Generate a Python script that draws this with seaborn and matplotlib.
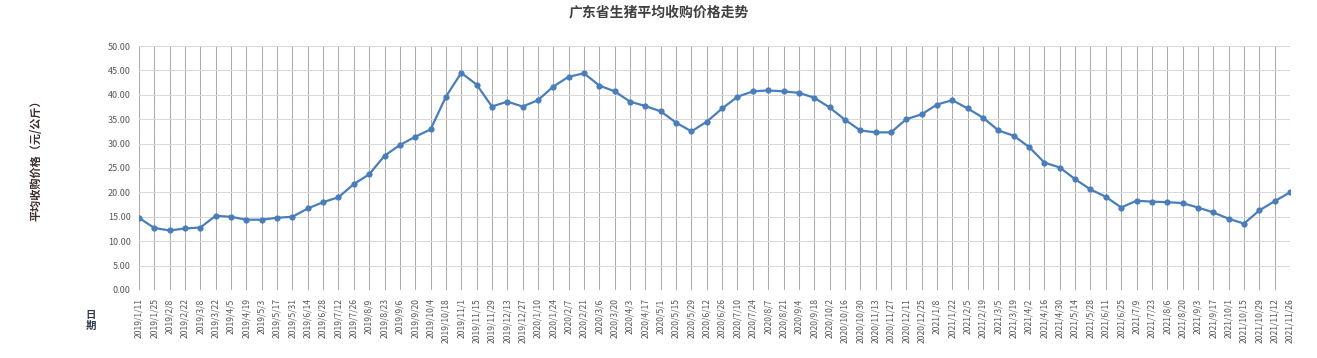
import pandas as pd
import numpy as np
import seaborn as sns
from matplotlib import pyplot as plt

# weekly (every two weeks) sample dates, 2019/1/11 .. 2021/11/26
dates = pd.date_range('2019-01-11', '2021-11-26', freq='14D')
date_labels = [f"{d.year}/{d.month}/{d.day}" for d in dates]

price = [14.8, 12.7, 12.2, 12.6, 12.8, 15.2, 15.0, 14.4, 14.4, 14.8,
         15.0, 16.7, 18.0, 19.0, 21.7, 23.7, 27.5, 29.7, 31.4, 32.9,
         39.6, 44.5, 42.1, 37.6, 38.6, 37.6, 38.9, 41.7, 43.7, 44.4,
         41.9, 40.7, 38.6, 37.7, 36.6, 34.3, 32.5, 34.5, 37.2, 39.6,
         40.7, 40.9, 40.7, 40.4, 39.4, 37.4, 34.9, 32.7, 32.3, 32.3,
         35.0, 36.0, 38.0, 38.9, 37.2, 35.3, 32.7, 31.6, 29.3, 26.1,
         25.1, 22.7, 20.6, 19.1, 16.9, 18.3, 18.1, 18.0, 17.8, 16.9,
         15.9, 14.6, 13.6, 16.3, 18.2, 20.0]

yticks = np.arange(0, 50.01, 5)

df = pd.DataFrame({'idx': range(len(price)), 'price': price})

sns.set_style('white')
plt.rcParams['font.family'] = ['Noto Sans CJK SC', 'DejaVu Sans']

fig = plt.figure(figsize=(13.17, 3.58), dpi=100)
ax = fig.add_axes([0.1055, 0.19, 0.874, 0.6815])

sns.lineplot(data=df, x='idx', y='price', ax=ax, color='#4a7ebb', linewidth=1.6,
             marker='o', markersize=4.5, markeredgewidth=0, zorder=3)

ax.set_xlim(0, len(price) - 1)
ax.set_ylim(0, 50)
ax.set_xticks(range(len(price)))
ax.set_xticklabels(date_labels, rotation=90, fontsize=6.2, color='#595959')
ax.set_yticks(yticks)
ax.set_yticklabels([f"{v:.2f}" for v in yticks], fontsize=6.5, color='#595959')
ax.tick_params(axis='x', length=4, width=0.75, color='#ababab', pad=2)
ax.tick_params(axis='y', length=0, pad=6)

ax.grid(axis='x', color='#ababab', linewidth=0.75)
ax.grid(axis='y', color='#d9d9d9', linewidth=0.75)
ax.set_axisbelow(True)
for s in ax.spines.values():
    s.set_visible(False)

ax.set_xlabel('')
ax.set_ylabel('')
fig.text(0.5, 0.965, '广东省生猪平均收购价格走势', ha='center', va='center',
         fontsize=10, fontweight='bold', color='#404040')
fig.text(0.027, 0.56, '平均收购价格（元/公斤）', rotation=90, ha='center', va='center',
         fontsize=8, fontweight='bold', color='#3d2b2b')
fig.text(0.069, 0.105, '日\n期', ha='center', va='center', linespacing=1.1,
         fontsize=7.5, fontweight='bold', color='#2f3a4a')

plt.savefig('out.png', dpi=100)
